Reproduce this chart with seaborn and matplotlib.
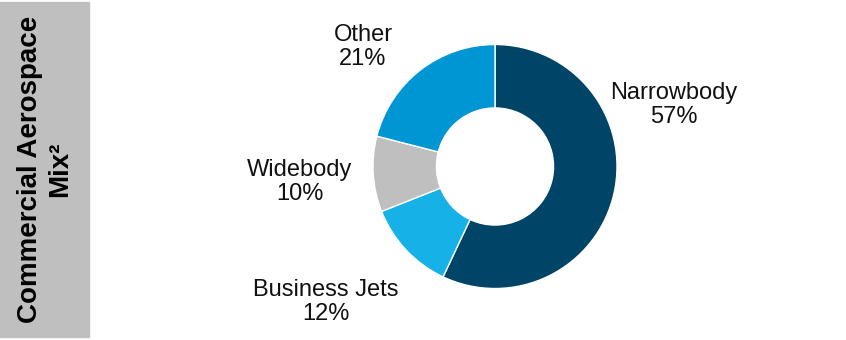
import matplotlib
matplotlib.use("Agg")
import matplotlib.pyplot as plt
import seaborn as sns

categories = ["Narrowbody", "Business Jets", "Widebody", "Other"]
shares = [57, 12, 10, 21]
colors = ["#004468", "#16B1E6", "#BFBFBF", "#0095D3"]
side_title = "Commercial Aerospace\nMix²"

sns.set_theme(style="white")
plt.rcParams["font.family"] = ["Liberation Sans", "DejaVu Sans"]

W, H = 846, 340
fig = plt.figure(figsize=(W / 100, H / 100), dpi=100)
ax = fig.add_axes([0, 0, 1, 1])

cx, cy, R = 495, H - 166.5, 122
wedges, _ = ax.pie(shares, colors=colors, startangle=90, counterclock=False,
                   radius=R, center=(cx, cy),
                   wedgeprops=dict(width=R * 0.52, edgecolor="white", linewidth=1.0))
ax.set_xlim(0, W)
ax.set_ylim(0, H)
ax.set_aspect("auto")
ax.axis("off")

# label positions (pixel coords from top)
label_pos = {"Narrowbody": (674, 105), "Business Jets": (326, 302),
             "Widebody": (300, 182), "Other": (363, 47)}
for name, val in zip(categories, shares):
    x, y = label_pos[name]
    ax.text(x, H - y, f"{name}\n{val}%", ha="center", va="center",
            fontsize=17, color="#111111", linespacing=1.15)

# left gray band with rotated title
ax.add_patch(plt.Rectangle((0, H - 337), 89, 335, color="#BFBFBF", zorder=0))
ax.text(45, H - 169, side_title, rotation=90, ha="center", va="center",
        multialignment="center", fontsize=20, fontweight="bold", color="black",
        linespacing=1.2)

fig.savefig("out.png", dpi=100)
